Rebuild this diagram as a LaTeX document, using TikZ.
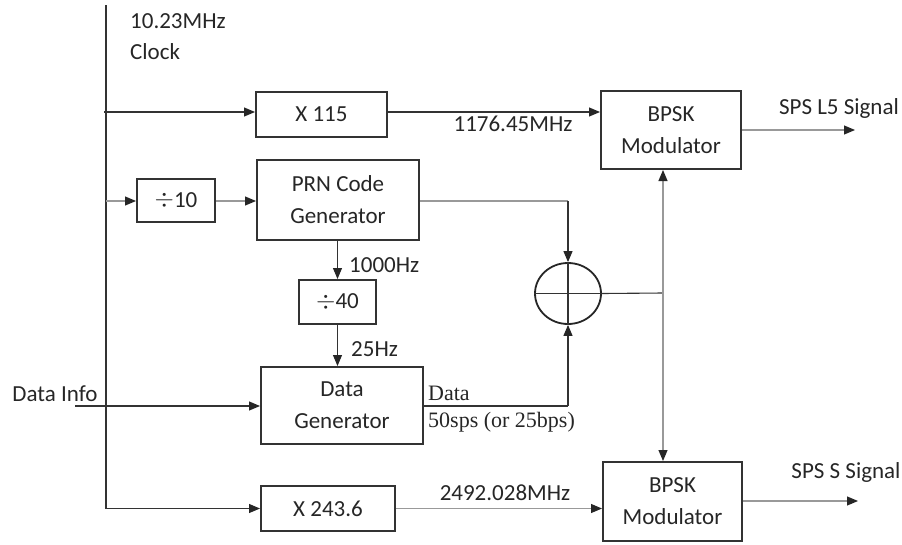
\documentclass[tikz,border=0pt]{standalone}
\usepackage{fontspec}
\setmainfont{Carlito}
\newfontfamily\seriffont{Liberation Serif}
\usetikzlibrary{arrows.meta,shapes.geometric}
\begin{document}
\begin{tikzpicture}[x=1pt,y=-1pt,
  box/.style={draw=black!80,line width=2pt,inner sep=0pt,align=center,text=black!85,font=\fontsize{23}{32}\selectfont},
  lbl/.style={inner sep=0pt,text=black!85,font=\fontsize{23}{28}\selectfont},
  slbl/.style={inner sep=0pt,text=black!85,font=\seriffont\fontsize{22}{26}\selectfont},
  wire/.style={line width=1.1pt,draw=black!80},
  gwire/.style={line width=1.1pt,draw=black!40},
  arr/.style={-{Triangle[length=11pt,width=9pt,color=black!85]}},
]
\path[use as bounding box] (0,0) rectangle (902,544);
% boxes
\node[box,minimum width=131pt,minimum height=45pt] (x115) at (321.5,114.5) {X 115};
\node[box,minimum width=78pt,minimum height=43pt] (div10) at (176,200.5) {\raisebox{0.5pt}{$\div$}10};
\node[box,minimum width=162pt,minimum height=80pt] (prn) at (338,200) {PRN Code\\Generator};
\node[box,minimum width=77pt,minimum height=44pt] (div40) at (337.5,302) {$\div$40};
\node[box,minimum width=162pt,minimum height=77pt] (dgen) at (342,405.5) {Data\\Generator};
\node[box,minimum width=134pt,minimum height=45pt] (x243) at (328,508.5) {X 243.6};
\node[box,minimum width=140pt,minimum height=78pt] (bpsk1) at (671,130) {BPSK\\Modulator};
\node[box,minimum width=139pt,minimum height=79pt] (bpsk2) at (672.5,501.5) {BPSK\\Modulator};
\node[draw=black!85,line width=1.8pt,ellipse,minimum width=66pt,minimum height=61pt,inner sep=0pt] (xor) at (568,293.5) {};
\draw[wire] (xor.north) -- (xor.south) (xor.west) -- (xor.east);
% labels
\node[lbl,anchor=west] (lclk1) at (130,21) {10.23MHz};
\node[lbl,anchor=west] (lclk2) at (130,52) {Clock};
\node[lbl] (l1176) at (513,124) {1176.45MHz};
\node[lbl] (ll5) at (839,108) {SPS L5 Signal};
\node[lbl,anchor=west] (l1000) at (349,265) {1000Hz};
\node[lbl,anchor=west] (l25) at (351,349) {25Hz};
\node[lbl] (ldi) at (55,394) {Data Info};
\node[slbl,anchor=west] (ldata) at (428,393) {Data};
\node[slbl,anchor=west] (lsps) at (428,422) {50sps (or 25bps)};
\node[lbl] (l2492) at (505,493) {2492.028MHz};
\node[lbl] (lss) at (846,472) {SPS S Signal};
% coordinates
\coordinate (ctop) at (106,5);
\coordinate (cbot) at (106,508.5);
\coordinate (c1) at (104,112);
\coordinate (c2) at (106,201);
\coordinate (prnxor) at (568,201);
\coordinate (di) at (75,406);
\coordinate (dxor) at (568,406);
\coordinate (j) at (663,293);
\coordinate (l5end) at (855,130);
\coordinate (send) at (858,501);
% connectors
\draw[wire,arr] (ctop) -- (cbot) -- (x243.west);
\draw[wire,arr] (c1) -- (x115.west |- c1);
\draw[wire,arr] (x115.east |- c1) -- (bpsk1.west |- c1);
\draw[gwire,arr] (bpsk1.east |- l5end) -- (l5end);
\draw[gwire,arr] (c2) -- (div10.west |- c2);
\draw[gwire,arr] (div10.east |- c2) -- (prn.west |- c2);
\draw[gwire] (prn.east |- prnxor) -- (prnxor);
\draw[wire,arr] (prnxor) -- (xor.north);
\draw[wire,arr] (div40.north |- prn.south) -- (div40.north);
\draw[wire,arr] (div40.south) -- (div40.south |- dgen.north);
\draw[wire,arr] (di) -- (dgen.west |- di);
\draw[wire] (dgen.east |- dxor) -- (dxor);
\draw[wire,arr] (dxor) -- (xor.south);
\draw[wire] (xor.east) -- (j);
\draw[gwire,arr] (j) -- (j |- bpsk1.south);
\draw[gwire,arr] (j) -- (j |- bpsk2.north);
\draw[gwire,arr] (x243.east) -- (bpsk2.west |- x243.east);
\draw[gwire,arr] (bpsk2.east |- send) -- (send);
\end{tikzpicture}
\end{document}
